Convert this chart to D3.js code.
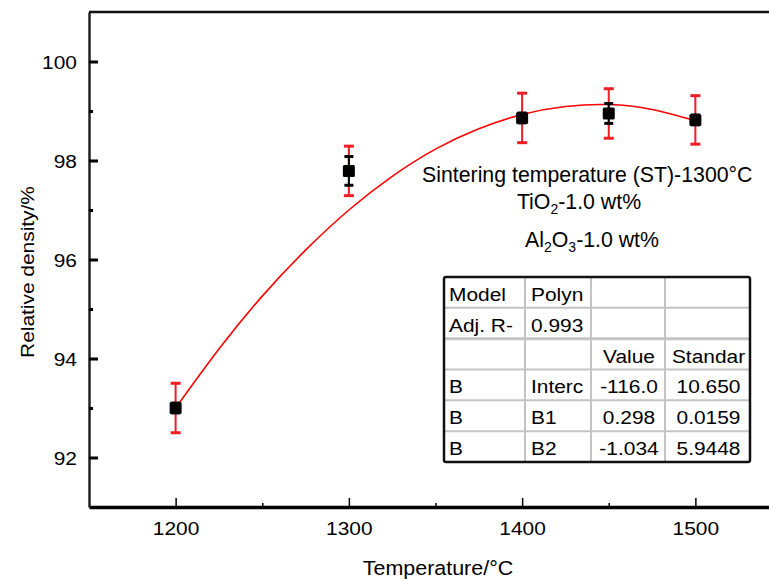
<!DOCTYPE html>
<meta charset="utf-8">
<style>
body { margin: 0; background: #fff; }
text { font-family: "Liberation Sans", Arial, sans-serif; fill: #000; }
</style>
<body>
<svg id="chart" width="769" height="579"></svg>
<script src="https://cdn.jsdelivr.net/npm/d3@7"></script>
<script>
// measured points (temperature, relative density) with error bars
var temps = [1200, 1300, 1400, 1450, 1500];
var density = [93.0, 97.79, 98.86, 98.95, 98.82];
var errRed = [0.5, 0.5, 0.5, 0.5, 0.49];
var errBlack = [0.1, 0.29, 0.1, 0.2, 0.1];

// polynomial fit curve
var fitTemps = [1200, 1225, 1250, 1275, 1300, 1325, 1350, 1375, 1400, 1425, 1450, 1475, 1500];
var fitDensity = [93.0, 94.19, 95.26, 96.19, 97.0, 97.68, 98.23, 98.64, 98.93, 99.09, 99.13, 99.03, 98.8];

var xTicks = [1200, 1300, 1400, 1500];
var xMinor = [1250, 1350, 1450];
var yTicks = [92, 94, 96, 98, 100];
var yMinor = [93, 95, 97, 99];

var tableRows = [
  ["Model", "Polyn", "", ""],
  ["Adj. R-", "0.993", "", ""],
  ["", "", "Value", "Standar"],
  ["B", "Interc", "-116.0", "10.650"],
  ["B", "B1", "0.298", "0.0159"],
  ["B", "B2", "-1.034", "5.9448"]
];

var svg = d3.select("#chart");
var plotL = 89, plotT = 12, plotB = 507, plotR = 782;
var sx = 1.1;  // text in the picture is a little wider than Arial

var x = d3.scaleLinear().domain([1150, 1550]).range([plotL, plotR]);
var y = d3.scaleLinear().domain([91, 101]).range([plotB, plotT]);

function stretch(sel) {
  sel.each(function() {
    var t = d3.select(this);
    var tx = +t.attr("x") || 0, ty = +t.attr("y") || 0;
    t.attr("x", 0).attr("y", 0)
     .attr("transform", "translate(" + tx + "," + ty + ") scale(" + sx + ",1)");
  });
}

// frame
svg.append("line").attr("x1", plotL).attr("x2", 769).attr("y1", plotT).attr("y2", plotT)
  .attr("stroke", "#111").attr("stroke-width", 2.5);

// axes
var gx = svg.append("g").attr("transform", "translate(0," + plotB + ")")
  .call(d3.axisBottom(x).tickValues(xTicks).tickFormat(d3.format("d"))
    .tickSizeInner(-9).tickSizeOuter(0).tickPadding(10));
gx.select(".domain").attr("stroke", "#000").attr("stroke-width", 3.5);
gx.selectAll(".tick line").attr("stroke", "#000").attr("stroke-width", 1.5);
gx.selectAll(".tick text").attr("font-size", 19).attr("dy", null).attr("y", 28);
gx.selectAll(".tick text").call(stretch);

var gxm = svg.append("g").attr("transform", "translate(0," + plotB + ")")
  .call(d3.axisBottom(x).tickValues(xMinor).tickFormat("").tickSizeInner(-4).tickSizeOuter(0));
gxm.select(".domain").remove();
gxm.selectAll(".tick line").attr("stroke", "#000").attr("stroke-width", 1.5);

var gy = svg.append("g").attr("transform", "translate(" + plotL + ",0)")
  .call(d3.axisLeft(y).tickValues(yTicks).tickSizeInner(-9).tickSizeOuter(0).tickPadding(11));
gy.select(".domain").attr("stroke", "#222").attr("stroke-width", 2.5);
gy.selectAll(".tick line").attr("stroke", "#000").attr("stroke-width", 3);
gy.selectAll(".tick text").each(function() {
  d3.select(this).attr("font-size", 19).attr("dy", null).attr("x", 0).attr("y", 0)
    .attr("transform", "translate(-12,7) scale(" + sx + ",1)");
});

var gym = svg.append("g").attr("transform", "translate(" + plotL + ",0)")
  .call(d3.axisLeft(y).tickValues(yMinor).tickFormat("").tickSizeInner(-4).tickSizeOuter(0));
gym.select(".domain").remove();
gym.selectAll(".tick line").attr("stroke", "#000").attr("stroke-width", 3);

// axis titles
svg.append("text").attr("x", 438).attr("y", 575).attr("text-anchor", "middle")
  .attr("font-size", 19.5).text("Temperature/°C").call(stretch);
svg.append("text").attr("text-anchor", "middle").attr("font-size", 19)
  .attr("transform", "translate(34,272) rotate(-90) scale(" + sx + ",1)")
  .text("Relative density/%");

// fit curve
var line = d3.line().x(function(d, i) { return x(fitTemps[i]); })
  .y(function(d) { return y(d); }).curve(d3.curveNatural);
svg.append("path").datum(fitDensity).attr("d", line)
  .attr("fill", "none").attr("stroke", "#f00").attr("stroke-width", 1.6);

// error bars + markers
var pts = svg.append("g").selectAll("g").data(temps).enter().append("g");
function bars(sel, errs, color, capW, w, capH) {
  sel.append("line")
    .attr("x1", function(d) { return x(d); }).attr("x2", function(d) { return x(d); })
    .attr("y1", function(d, i) { return y(density[i] + errs[i]); })
    .attr("y2", function(d, i) { return y(density[i] - errs[i]); })
    .attr("stroke", color).attr("stroke-width", w);
  [1, -1].forEach(function(s) {
    sel.append("line")
      .attr("x1", function(d) { return x(d) - capW / 2; }).attr("x2", function(d) { return x(d) + capW / 2; })
      .attr("y1", function(d, i) { return y(density[i] + s * errs[i]); })
      .attr("y2", function(d, i) { return y(density[i] + s * errs[i]); })
      .attr("stroke", color).attr("stroke-width", capH);
  });
}
bars(pts, errRed, "#ee1c25", 10, 2, 3);
bars(pts, errBlack, "#000", 9, 2, 3);
pts.append("rect")
  .attr("x", function(d) { return x(d) - 6; })
  .attr("y", function(d, i) { return y(density[i]) - 6; })
  .attr("width", 12).attr("height", 12).attr("rx", 1.5).attr("fill", "#000");

// annotation
svg.append("text").attr("x", 422).attr("y", 182).attr("font-size", 21.3)
  .text("Sintering temperature (ST)-1300°C");
var t2 = svg.append("text").attr("x", 579).attr("y", 209).attr("text-anchor", "middle").attr("font-size", 21.3);
t2.append("tspan").text("TiO");
t2.append("tspan").attr("font-size", 14).attr("dy", 5).text("2");
t2.append("tspan").attr("dy", -5).text("-1.0 wt%");
var t3 = svg.append("text").attr("x", 592).attr("y", 247).attr("text-anchor", "middle").attr("font-size", 21.3);
t3.append("tspan").text("Al");
t3.append("tspan").attr("font-size", 14).attr("dy", 5).text("2");
t3.append("tspan").attr("dy", -5).text("O");
t3.append("tspan").attr("font-size", 14).attr("dy", 5).text("3");
t3.append("tspan").attr("dy", -5).text("-1.0 wt%");

// fit table
var colX = [444, 525, 591, 665, 750];
var rowY = d3.range(7).map(function(i) { return 277 + i * (462 - 277) / 6; });
var tb = svg.append("g");
tb.append("rect").attr("x", colX[0]).attr("y", rowY[0]).attr("width", colX[4] - colX[0])
  .attr("height", rowY[6] - rowY[0]).attr("fill", "#fff");
for (var c = 1; c < 4; c++) {
  tb.append("line").attr("x1", colX[c]).attr("x2", colX[c]).attr("y1", rowY[0]).attr("y2", rowY[6])
    .attr("stroke", "#c4c4c4").attr("stroke-width", 2);
}
for (var r = 1; r < 6; r++) {
  tb.append("line").attr("x1", colX[0]).attr("x2", colX[4]).attr("y1", rowY[r]).attr("y2", rowY[r])
    .attr("stroke", "#c4c4c4").attr("stroke-width", r == 2 ? 3 : 2);
}
tb.append("rect").attr("x", colX[0]).attr("y", rowY[0]).attr("width", colX[4] - colX[0])
  .attr("height", rowY[6] - rowY[0]).attr("rx", 2).attr("fill", "none")
  .attr("stroke", "#111").attr("stroke-width", 2.5);
tableRows.forEach(function(row, ri) {
  row.forEach(function(txt, ci) {
    if (!txt) return;
    var centered = ci >= 2;
    tb.append("text")
      .attr("x", centered ? (colX[ci] + colX[ci + 1]) / 2 + 1 : colX[ci] + (ci == 0 ? 5 : 6))
      .attr("y", rowY[ri + 1] - 7)
      .attr("text-anchor", centered ? "middle" : "start")
      .attr("font-size", 19).text(txt).call(stretch);
  });
});
</script>
</body>
